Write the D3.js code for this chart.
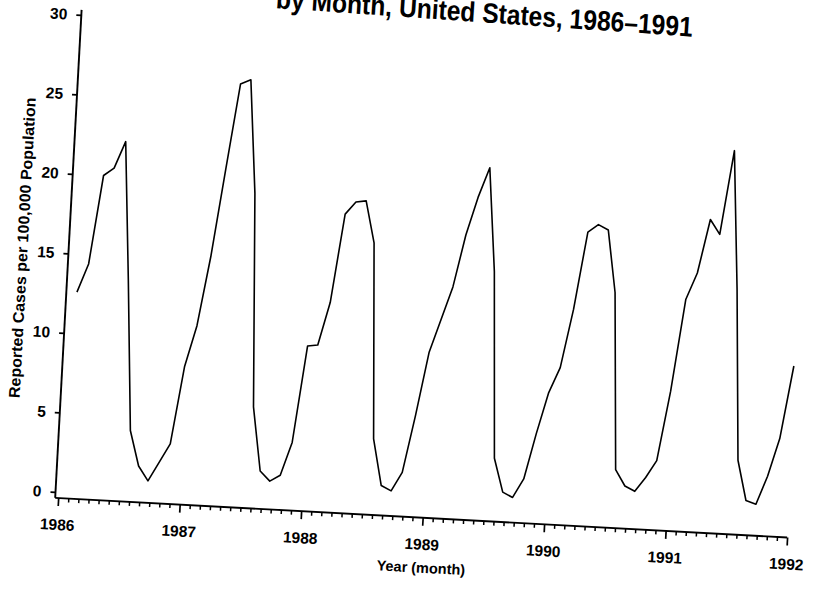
<!DOCTYPE html>
<html><head><meta charset="utf-8">
<script src="https://cdn.jsdelivr.net/npm/d3@7"></script>
<style>
html,body{margin:0;padding:0;background:#fff;}
svg{display:block;}
text{font-family:"Liberation Sans",Arial,sans-serif;fill:#000;}
</style></head><body>
<svg id="chart" width="813" height="591"></svg>
<script>
// ---- data (reported cases per 100,000 population, by month) ----
const yearLabels = ["1986","1987","1988","1989","1990","1991","1992"];
const yTickValues = [0,5,10,15,20,25,30];
const monthNames = ["Jan","Feb","Mar","Apr","May","Jun","Jul","Aug","Sep","Oct","Nov","Dec"];
const rate1986 = [12.6,14.4,20.0,20.5,22.2,13.5,4.1,1.9,1.0,2.2,3.4,8.3];
const rate1987 = [10.9,15.3,20.8,26.2,26.5,19.4,6.0,2.0,1.4,1.8,3.9,10.0];
const rate1988 = [10.1,12.8,18.4,19.2,19.3,16.7,4.4,1.5,1.2,2.4,6.0,10.0];
const rate1989 = [12.1,14.2,17.5,19.9,21.8,15.3,3.6,1.5,1.2,2.4,5.3,7.9];
const rate1990 = [9.5,13.2,18.1,18.6,18.3,14.4,3.3,2.3,2.0,2.9,4.0,8.4];
const rate1991 = [14.2,15.9,19.3,18.4,23.7,15.0,4.3,1.8,1.6,3.4,5.8,10.4];
const titleText = "by Month, United States, 1986\u20131991";
const yLabelText = "Reported Cases per 100,000 Population";
const xLabelText = "Year (month)";

// ---- build point table ----
const seriesByYear = [rate1986, rate1987, rate1988, rate1989, rate1990, rate1991];
const points = [];
seriesByYear.forEach((arr, yi) => arr.forEach((v, mi) => {
  points.push({year: +yearLabels[yi], month: mi, value: v});
}));

// ---- layout (scan is slightly rotated) ----
const OX = 58.5, OY = 492, ANGLE = 3.1;
const POINT_OFFSET = 0.75; // position of each monthly point within its month
const svg = d3.select("#chart");
const g = svg.append("g").attr("transform", `translate(${OX},${OY}) rotate(${ANGLE})`);

const x = d3.scaleLinear().domain([+yearLabels[0], +yearLabels[yearLabels.length-1]]).range([0, 730]);
const y = d3.scaleLinear().domain([0, 30]).range([0, -477.7]);
const t = d => d.year + (d.month + POINT_OFFSET) / 12;
const AXIS_Y = 6, AXIS_X = -3;

// axis lines
g.append("line").attr("x1", AXIS_X).attr("x2", x.range()[1]).attr("y1", AXIS_Y).attr("y2", AXIS_Y)
  .attr("stroke", "#000").attr("stroke-width", 1.9);
g.append("line").attr("x1", AXIS_X).attr("x2", AXIS_X).attr("y1", AXIS_Y).attr("y2", y(30) - 5)
  .attr("stroke", "#000").attr("stroke-width", 1.9);

// x minor (monthly) ticks
const monthTicks = [];
yearLabels.slice(0, -1).forEach(yr => monthNames.forEach((m, i) => { if (i > 0) monthTicks.push(+yr + i / 12); }));
const xMinor = g.append("g").attr("transform", `translate(0,${AXIS_Y})`)
  .call(d3.axisBottom(x).tickValues(monthTicks).tickSize(4).tickSizeOuter(0).tickFormat(""));
xMinor.select(".domain").remove();
xMinor.selectAll("line").attr("stroke-width", 1.5);

// x major (year) ticks
const xMajor = g.append("g").attr("transform", `translate(0,${AXIS_Y})`)
  .call(d3.axisBottom(x).tickValues(yearLabels.map(Number)).tickSize(8).tickSizeOuter(0)
    .tickPadding(13).tickFormat(d3.format("d")));
xMajor.select(".domain").remove();
xMajor.selectAll("line").attr("stroke-width", 1.7);
xMajor.selectAll("text").attr("font-family", "'Liberation Sans',Arial,sans-serif")
  .attr("font-size", 15.5).attr("font-weight", "bold");

// y ticks
const yAx = g.append("g").attr("transform", `translate(${AXIS_X},0)`)
  .call(d3.axisLeft(y).tickValues(yTickValues).tickSize(5).tickSizeOuter(0).tickPadding(9));
yAx.select(".domain").remove();
yAx.selectAll("line").attr("stroke-width", 1.7);
yAx.selectAll("text").attr("font-family", "'Liberation Sans',Arial,sans-serif")
  .attr("font-size", 15.5).attr("font-weight", "bold");

// data line
const line = d3.line().x(d => x(t(d))).y(d => y(d.value));
g.append("path").datum(points).attr("d", line)
  .attr("fill", "none").attr("stroke", "#000").attr("stroke-width", 1.6).attr("stroke-linejoin", "round");

// labels
g.append("text").attr("transform", "translate(-44,-242) rotate(-90)")
  .attr("text-anchor", "middle").attr("font-size", 15.5).attr("font-weight", "bold")
  .attr("textLength", 301).attr("lengthAdjust", "spacingAndGlyphs").text(yLabelText);
g.append("text").attr("x", 366).attr("y", 61).attr("text-anchor", "middle")
  .attr("font-size", 14.5).attr("font-weight", "bold").text(xLabelText);
g.append("text").attr("transform", "translate(608,-489) rotate(0.8) scale(0.88,1)").attr("text-anchor", "end")
  .attr("font-size", 28).attr("font-weight", "bold").text(titleText);
</script>
</body></html>
